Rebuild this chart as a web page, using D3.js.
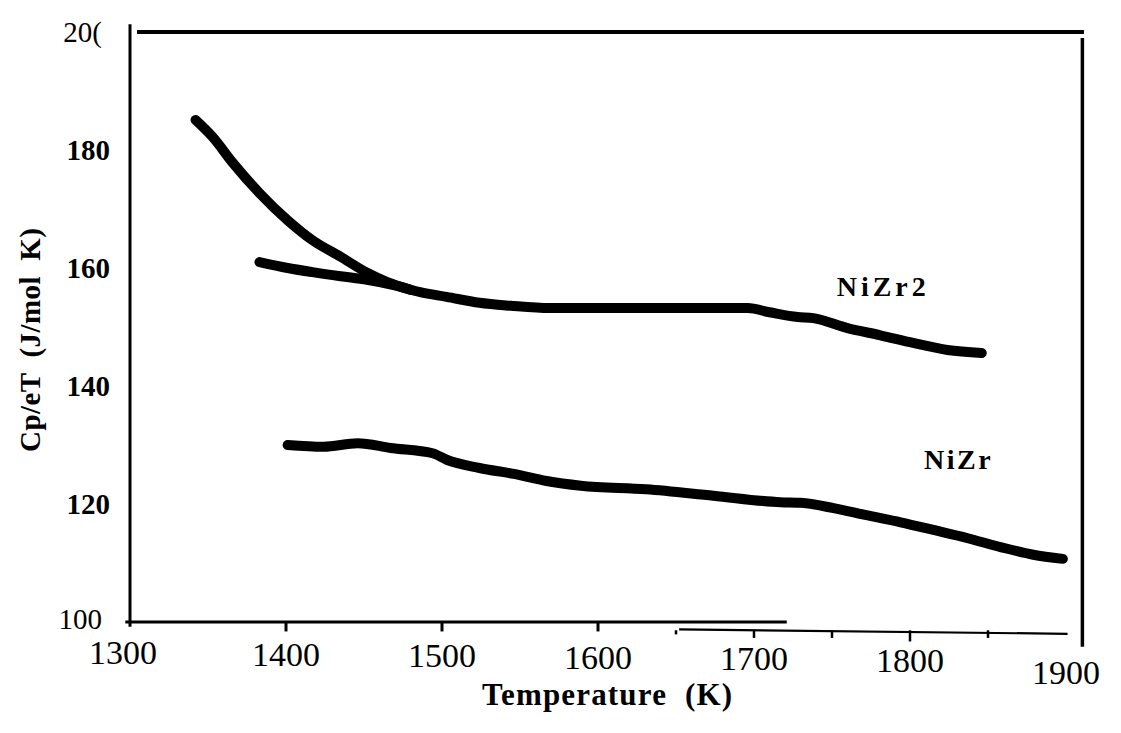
<!DOCTYPE html>
<html>
<head>
<meta charset="utf-8">
<script src="https://cdn.jsdelivr.net/npm/d3@7"></script>
<style>
  html, body { margin: 0; padding: 0; background: #fff; }
  svg { display: block; }
  text { font-family: "Liberation Serif", "Times New Roman", serif; fill: #000; white-space: pre; }
</style>
</head>
<body>
<svg id="chart" width="1121" height="733"></svg>
<script>
// Temperature (K) and Cp/eT (J/mol K) readings for each alloy
const nizr2UndercooledT = [1342, 1353, 1366, 1383, 1401, 1417, 1435, 1452, 1465, 1480];
const nizr2UndercooledCp = [185.1, 182.2, 177.8, 172.7, 168.1, 164.7, 161.9, 159.2, 157.6, 156.3];

const nizr2T = [1383, 1401, 1417, 1435, 1452, 1469, 1486, 1503, 1524, 1544, 1569, 1601, 1633, 1665, 1696, 1710, 1728, 1738, 1760, 1781, 1802, 1824, 1846];
const nizr2Cp = [161.0, 160.0, 159.3, 158.6, 158.0, 157.1, 155.9, 155.1, 154.1, 153.6, 153.2, 153.2, 153.2, 153.2, 153.2, 152.5, 151.7, 151.5, 149.8, 148.6, 147.3, 146.1, 145.6];

const nizrT = [1401, 1424, 1446, 1467, 1494, 1503, 1524, 1546, 1567, 1589, 1631, 1674, 1717, 1730, 1751, 1772, 1794, 1815, 1837, 1858, 1879, 1898];
const nizrCp = [130.0, 129.7, 130.3, 129.5, 128.6, 127.5, 126.1, 125.1, 123.9, 123.1, 122.5, 121.4, 120.3, 120.2, 119.3, 118.1, 116.9, 115.6, 114.2, 112.7, 111.4, 110.7];

const xTicks = [1300, 1400, 1500, 1600, 1700, 1800, 1900];
const xTickLabels = ["1300", "1400", "1500", "1600", "1700", "1800", "1900"];
const xTickMarksUpper = [1400, 1500, 1600];
const xTickMarksLower = [1650, 1700, 1750, 1800, 1850];
const yTicks = [100, 120, 140, 160, 180, 200];
const yTickLabels = ["100", "120", "140", "160", "180", "20("];
const yTickBold = [false, true, true, true, true, false];

const seriesLabels = [
  { name: "NiZr2", t: 1753, v: 155.2 },
  { name: "NiZr", t: 1809, v: 126.0 }
];

const svg = d3.select("#chart");
const x = d3.scaleLinear().domain([1300, 1900]).range([130, 1066]);
const y = d3.scaleLinear().domain([100, 200]).range([622, 32]);

// frame: left, top and right borders
svg.append("line").attr("x1", x(1300)).attr("x2", x(1300)).attr("y1", y(201.3)).attr("y2", y(99.2))
  .attr("stroke", "#000").attr("stroke-width", 3);
svg.append("line").attr("x1", x(1304.5)).attr("x2", x(1911.5)).attr("y1", y(200)).attr("y2", y(200))
  .attr("stroke", "#000").attr("stroke-width", 4);
svg.append("line").attr("x1", x(1910.5)).attr("x2", x(1910.5)).attr("y1", y(199)).attr("y2", y(95.8))
  .attr("stroke", "#000").attr("stroke-width", 3.5);

// bottom axis, drawn as two offset segments
svg.append("line").attr("x1", x(1297)).attr("x2", x(1721)).attr("y1", y(100)).attr("y2", y(100))
  .attr("stroke", "#000").attr("stroke-width", 3);
svg.append("line").attr("x1", x(1652)).attr("x2", x(1901)).attr("y1", y(98.75)).attr("y2", y(98.0))
  .attr("stroke", "#000").attr("stroke-width", 2.2);

svg.append("g").selectAll("line").data(xTickMarksUpper).join("line")
  .attr("x1", d => x(d)).attr("x2", d => x(d))
  .attr("y1", y(100)).attr("y2", y(98.4))
  .attr("stroke", "#000").attr("stroke-width", 3);
svg.append("g").selectAll("line").data(xTickMarksLower).join("line")
  .attr("x1", d => x(d)).attr("x2", d => x(d))
  .attr("y1", y(98.6)).attr("y2", d => d === 1800 ? y(96.7) : (d === 1650 ? y(97.9) : y(97.3)))
  .attr("stroke", "#000").attr("stroke-width", 2.5);

// x tick labels
svg.append("g").selectAll("text").data(xTicks).join("text")
  .attr("x", d => x(d) - (d === 1300 ? 7 : 0))
  .attr("y", (d, i) => 664 + i * 1.5 + (d === 1900 ? 11 : 0))
  .attr("text-anchor", "middle")
  .attr("font-size", 34)
  .text((d, i) => xTickLabels[i]);

// y tick labels
svg.append("g").selectAll("text").data(yTicks).join("text")
  .attr("x", (d, i) => yTickBold[i] ? 110 : 102)
  .attr("y", d => y(d) + (d === 100 ? 7 : 10))
  .attr("text-anchor", "end")
  .attr("font-size", 29)
  .attr("font-weight", (d, i) => yTickBold[i] ? "bold" : "normal")
  .text((d, i) => yTickLabels[i]);

// axis titles
svg.append("text")
  .attr("transform", "translate(40,340) rotate(-90)")
  .attr("text-anchor", "middle")
  .attr("font-size", 29)
  .attr("font-weight", "bold")
  .attr("textLength", 224)
  .attr("lengthAdjust", "spacing")
  .text("Cp/eT  (J/mol  K)");
svg.append("text")
  .attr("x", 607).attr("y", 705)
  .attr("text-anchor", "middle")
  .attr("font-size", 31)
  .attr("font-weight", "bold")
  .attr("textLength", 250)
  .attr("lengthAdjust", "spacing")
  .text("Temperature  (K)");

// curves
const line = d3.line().x(d => x(d[0])).y(d => y(d[1])).curve(d3.curveMonotoneX);
const curves = [
  d3.zip(nizr2UndercooledT, nizr2UndercooledCp),
  d3.zip(nizr2T, nizr2Cp),
  d3.zip(nizrT, nizrCp)
];
svg.append("g").selectAll("path").data(curves).join("path")
  .attr("d", line)
  .attr("fill", "none")
  .attr("stroke", "#000")
  .attr("stroke-width", 10)
  .attr("stroke-linecap", "round")
  .attr("stroke-linejoin", "round");

// series labels
svg.append("g").selectAll("text").data(seriesLabels).join("text")
  .attr("x", d => x(d.t)).attr("y", d => y(d.v))
  .attr("font-size", 28)
  .attr("font-weight", "bold")
  .attr("letter-spacing", d => d.name === "NiZr2" ? 4 : 2.5)
  .text(d => d.name);
</script>
</body>
</html>
